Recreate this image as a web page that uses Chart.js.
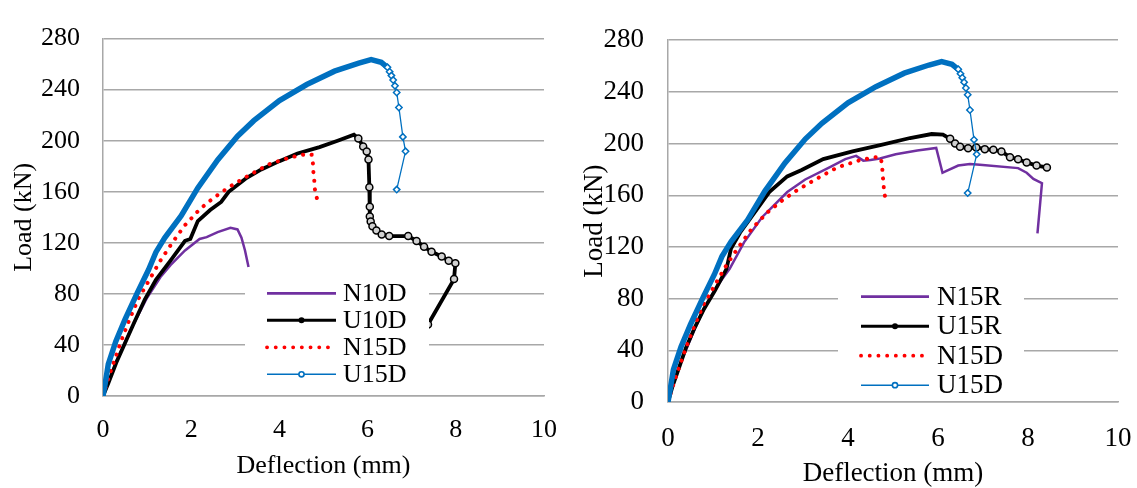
<!DOCTYPE html>
<html>
<head>
<meta charset="utf-8">
<script src="https://cdn.jsdelivr.net/npm/chart.js@4.4.1/dist/chart.umd.min.js"></script>
<style>
  html, body { margin: 0; padding: 0; background: #fff; overflow: hidden; }
  #wrap { position: relative; width: 1137px; height: 488px; overflow: hidden; }
  #left { position: absolute; left: 0; top: 0; }
  #right { position: absolute; left: 570px; top: 0; }
</style>
</head>
<body>
<div id="wrap">
  <canvas id="left" width="570" height="488"></canvas>
  <canvas id="right" width="600" height="488"></canvas>
</div>
<script>
// tick values, same on both charts
const xTicks = [0, 2, 4, 6, 8, 10];
const yTicks = [0, 40, 80, 120, 160, 200, 240, 280];

// series as [deflection (mm), load (kN)]
// left chart only
const n10d = [[0, 0], [0.3, 27], [0.6, 50], [1.0, 77], [1.3, 93], [1.53, 102.5], [1.86, 114],
  [2.19, 123], [2.35, 124.5], [2.6, 128.4], [2.89, 131.7], [3.05, 130.5], [3.14, 124],
  [3.22, 114], [3.3, 101]];
const u10d = [[0, 0], [0.12, 10], [0.3, 26], [0.5, 41.5], [0.7, 57], [0.95, 75.8], [1.2, 91],
  [1.53, 106], [1.86, 121.6], [1.98, 123], [2.15, 137], [2.43, 145.7], [2.68, 152], [2.85, 160],
  [3.26, 171], [3.59, 177.5], [4.0, 184], [4.41, 190], [4.91, 195], [5.32, 200], [5.69, 204.7],
  [5.79, 201.8], [5.9, 195.5], [5.98, 191.6], [6.02, 185.3], [6.04, 163.6], [6.05, 148.3],
  [6.05, 140.6], [6.07, 136.8], [6.11, 133], [6.2, 129.7], [6.32, 126.6], [6.49, 125.3],
  [6.92, 125.3], [7.11, 121.5], [7.28, 116.9], [7.45, 113], [7.68, 109.3], [7.84, 106],
  [7.99, 104], [7.96, 91.6], [7.37, 56], [7.1, 40]];
// on both charts
const n15d = [[0, 0], [0.15, 17], [0.4, 42], [0.6, 60], [0.8, 76], [1.05, 91], [1.3, 106],
  [1.55, 119], [1.85, 133.5], [2.2, 146.5], [2.5, 155], [2.85, 163.5], [3.28, 172.3],
  [3.76, 181.5], [4.25, 187], [4.6, 189.5], [4.73, 189], [4.76, 182.2], [4.77, 175.6],
  [4.79, 169.5], [4.8, 162.8], [4.85, 155]];
const u15d = [[0, 0], [0.05, 10], [0.12, 25], [0.29, 42.7], [0.5, 60], [0.78, 81], [1.03, 98.7],
  [1.2, 112.7], [1.4, 124], [1.77, 141], [2.15, 163], [2.6, 185], [3.05, 203.5], [3.42, 215.7],
  [4.0, 231.5], [4.62, 244], [5.25, 254.5], [5.8, 260.8], [6.08, 263.5], [6.31, 261.4],
  [6.45, 257.5], [6.5, 254], [6.54, 251], [6.58, 247.5], [6.62, 243], [6.66, 237.8],
  [6.71, 226], [6.8, 203], [6.86, 191.7], [6.66, 161.7]];
// right chart only
const n15r = [[0, 0], [0.1, 12], [0.3, 32], [0.6, 57], [0.8, 72], [1.04, 87], [1.2, 95],
  [1.37, 103], [1.69, 123.6], [2.09, 143], [2.65, 162.5], [3.05, 172.2], [3.61, 182],
  [3.94, 188], [4.18, 190.5], [4.34, 186.8], [4.5, 187.3], [4.71, 188.5], [5.06, 191.7],
  [5.54, 194.6], [5.96, 196.6], [6.1, 177.4], [6.19, 178.9], [6.45, 183], [6.71, 184.2],
  [6.93, 183.7], [7.78, 181], [7.97, 177.4], [8.12, 172.7], [8.31, 169.3], [8.21, 130.5]];
const u15r = [[0, 0], [0.1, 12], [0.24, 26], [0.4, 42], [0.6, 58], [0.8, 72], [1.04, 86],
  [1.24, 99], [1.3, 103], [1.4, 118.7], [1.6, 131], [1.85, 143], [2.25, 162.5], [2.65, 174.6],
  [2.97, 179.5], [3.45, 188], [4.1, 194], [4.74, 199], [5.38, 204.3], [5.86, 207.4],
  [6.11, 207], [6.27, 203.7], [6.38, 200], [6.49, 197.6], [6.67, 196.4], [6.85, 197],
  [7.04, 195.7], [7.23, 195.2], [7.41, 193.9], [7.6, 189.5], [7.78, 187.9], [7.97, 185.4],
  [8.19, 183], [8.42, 181.5]];

const FONT = '"Liberation Serif", "Times New Roman", serif';
const GRID = '#a8a8a8';
const PURPLE = '#7030a0', BLACK = '#000000', RED = '#ff0000', BLUE = '#0070c0';

function pts(arr) {
  return arr.map(p => ({ x: p[0], y: p[1] }));
}

function purpleSet(label, data) {
  return { label, data: pts(data), showLine: true, borderColor: PURPLE, borderWidth: 2.5,
    pointRadius: 0, order: 4, legendWidth: 2.7 };
}
function blackSet(label, data, markFrom) {
  return { label, data: pts(data), showLine: true, borderColor: BLACK, borderWidth: 3.8,
    pointStyle: 'circle', pointRadius: c => (c.raw && c.raw.x >= markFrom ? 3.5 : 0),
    pointBorderColor: BLACK, pointBackgroundColor: '#d0d0d0', pointBorderWidth: 1.5,
    order: 3, legendWidth: 3, marker: 'dot' };
}
function redSet(label, data) {
  return { label, data: pts(data), showLine: true, borderColor: RED, borderWidth: 4,
    borderDash: [0.1, 8.6], borderCapStyle: 'round', pointRadius: 0, order: 2, legendWidth: 3.8 };
}
function blueSet(label, data) {
  return { label, data: pts(data), showLine: true, borderColor: BLUE, borderWidth: 5.5,
    segment: { borderWidth: c => (c.p0.parsed.x >= 6.4 ? 1.3 : 5.5) },
    pointStyle: 'rectRot', pointRadius: c => (c.raw && c.raw.x >= 6.4 ? 3.2 : 0),
    pointBorderColor: BLUE, pointBackgroundColor: '#ffffff', pointBorderWidth: 1.5,
    order: 1, legendWidth: 1.5, marker: 'diamond' };
}

// legend drawn inside the plot, on a white box like the original
function boxLegend(cfg) {
  return {
    id: 'boxLegend',
    afterDatasetsDraw(chart) {
      const ctx = chart.ctx;
      ctx.save();
      ctx.fillStyle = '#fff';
      ctx.fillRect(cfg.box[0], cfg.box[1], cfg.box[2], cfg.box[3]);
      chart.data.datasets.forEach((ds, i) => {
        const y = cfg.y0 + i * cfg.dy;
        const mx = (cfg.x0 + cfg.x1) / 2;
        ctx.beginPath();
        ctx.strokeStyle = ds.borderColor;
        ctx.lineWidth = ds.legendWidth;
        ctx.setLineDash(ds.borderDash || []);
        ctx.lineCap = ds.borderCapStyle || 'butt';
        ctx.moveTo(cfg.x0, y);
        ctx.lineTo(cfg.x1, y);
        ctx.stroke();
        ctx.setLineDash([]);
        if (ds.marker === 'dot') {
          ctx.beginPath();
          ctx.arc(mx, y, 3, 0, Math.PI * 2);
          ctx.fillStyle = BLACK;
          ctx.fill();
        }
        if (ds.marker === 'diamond') {
          ctx.beginPath();
          ctx.arc(mx, y, 2.6, 0, Math.PI * 2);
          ctx.fillStyle = '#fff';
          ctx.fill();
          ctx.lineWidth = 1.6;
          ctx.strokeStyle = BLUE;
          ctx.stroke();
        }
        ctx.fillStyle = '#000';
        ctx.font = cfg.size + 'px ' + FONT;
        ctx.textAlign = 'left';
        ctx.textBaseline = 'middle';
        ctx.fillText(ds.label, cfg.tx, y + 1);
      });
      ctx.restore();
    }
  };
}

function scales(o) {
  const font = { family: FONT, size: o.size };
  return {
    x: {
      type: 'linear', min: xTicks[0], max: xTicks[xTicks.length - 1],
      afterBuildTicks: s => { s.ticks = xTicks.map(v => ({ value: v })); },
      grid: { display: false },
      border: { display: true, color: GRID, width: 1.5 },
      ticks: { padding: o.xPad, font, color: '#000', maxRotation: 0, autoSkip: false },
      title: { display: true, text: 'Deflection (mm)', font, color: '#000',
        padding: { top: 0, bottom: o.xTitlePad } },
      afterFit: s => { s.height = o.xHeight; }
    },
    y: {
      type: 'linear', min: yTicks[0], max: yTicks[yTicks.length - 1],
      afterBuildTicks: s => { s.ticks = yTicks.map(v => ({ value: v })); },
      grid: { color: GRID, lineWidth: 1.5, drawTicks: false },
      border: { display: true, color: GRID, width: 1.5 },
      ticks: { padding: o.yPad, font, color: '#000', autoSkip: false },
      title: { display: true, text: 'Load (kN)', font, color: '#000',
        padding: { top: o.yTitlePad, bottom: 0 } },
      afterFit: s => { s.width = o.yWidth; }
    }
  };
}

function makeChart(id, datasets, layoutPad, o, legendCfg) {
  return new Chart(document.getElementById(id), {
    type: 'scatter',
    data: { datasets },
    options: {
      responsive: false,
      animation: false,
      events: [],
      layout: { padding: layoutPad },
      plugins: { legend: { display: false }, tooltip: { enabled: false } },
      scales: scales(o)
    },
    plugins: [boxLegend(legendCfg)]
  });
}

makeChart('left',
  [purpleSet('N10D', n10d), blackSet('U10D', u10d, 5.7), redSet('N15D', n15d), blueSet('U15D', u15d)],
  { left: 0, top: 29, right: 26, bottom: 0 },
  { size: 26, xPad: 11, xTitlePad: 6, xHeight: 92, yPad: 23, yTitlePad: 9, yWidth: 103 },
  { box: [245, 272, 184, 121], y0: 293.3, dy: 27, x0: 267, x1: 336, tx: 343, size: 26 });

makeChart('right',
  [purpleSet('N15R', n15r), blackSet('U15R', u15r, 6.2), redSet('N15D', n15d), blueSet('U15D', u15d)],
  { left: 0, top: 19, right: 52, bottom: 0 },
  { size: 27, xPad: 13, xTitlePad: -2, xHeight: 86, yPad: 24, yTitlePad: 9, yWidth: 98 },
  { box: [268, 268, 186, 130], y0: 296.7, dy: 29.5, x0: 291, x1: 359, tx: 367, size: 27 });
</script>
</body>
</html>
